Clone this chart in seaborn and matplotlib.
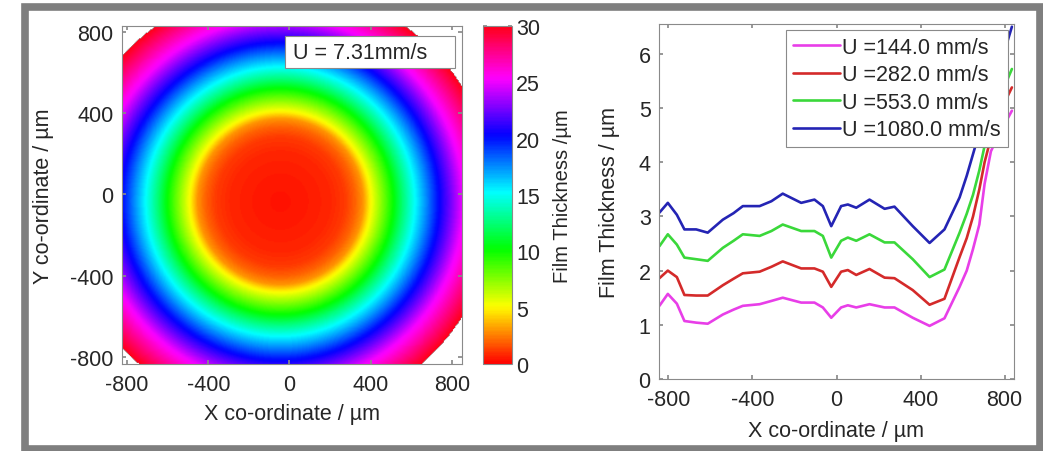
import numpy as np
import pandas as pd
import seaborn as sns
import matplotlib
matplotlib.use("Agg")
from matplotlib import pyplot as plt
from matplotlib.patches import Rectangle

# left panel: film thickness map, radial profile
map_label = "U = 7.31mm/s"
map_centre = (-45, -35)  # um
ring_radius = [0, 150, 250, 320, 370, 410, 445, 500, 555, 605, 660, 720, 778, 840, 900, 980, 1060, 1100]
ring_thickness = [0.4, 0.6, 0.8, 1.2, 2.0, 3.0, 5.0, 7.5, 10.0, 12.5, 15.0, 17.5, 20.0, 22.5, 25.0, 27.5, 29.9, 31.0]
map_x = np.linspace(-825, 850, 300)
map_y = np.linspace(-835, 830, 300)
cbar_ticks = [0, 5, 10, 15, 20, 25, 30]

# right panel: film thickness profiles along x
x_um = [-843, -803, -760, -724, -668, -613, -541, -490, -446, -366, -310, -256, -168, -105, -65, -25,
        22, 54, 94, 157, 229, 276, 363, 443, 514, 586, 620, 650, 680, 705, 735, 765, 800, 835]
h_144 = [1.35, 1.57, 1.39, 1.07, 1.04, 1.02, 1.19, 1.28, 1.35, 1.38, 1.44, 1.50, 1.41, 1.41, 1.32, 1.13,
         1.32, 1.36, 1.32, 1.38, 1.32, 1.32, 1.13, 0.98, 1.12, 1.70, 2.00, 2.40, 2.85, 3.60, 4.20, 4.45, 4.70, 4.95]
h_282 = [1.86, 2.00, 1.88, 1.55, 1.54, 1.54, 1.73, 1.85, 1.95, 1.98, 2.07, 2.17, 2.04, 2.04, 1.98, 1.70,
         1.98, 2.01, 1.92, 2.03, 1.87, 1.86, 1.64, 1.37, 1.48, 2.25, 2.60, 3.00, 3.50, 4.00, 4.45, 4.80, 5.10, 5.38]
h_553 = [2.45, 2.67, 2.48, 2.24, 2.21, 2.18, 2.42, 2.55, 2.67, 2.64, 2.73, 2.85, 2.73, 2.73, 2.64, 2.24,
         2.55, 2.61, 2.55, 2.67, 2.52, 2.52, 2.21, 1.88, 2.02, 2.70, 3.05, 3.40, 3.85, 4.30, 4.65, 5.00, 5.40, 5.72]
h_1080 = [3.07, 3.25, 3.03, 2.76, 2.76, 2.70, 2.94, 3.06, 3.19, 3.19, 3.28, 3.42, 3.25, 3.31, 3.19, 2.82,
          3.19, 3.22, 3.16, 3.31, 3.14, 3.18, 2.82, 2.51, 2.76, 3.35, 3.75, 4.15, 4.55, 4.85, 5.25, 5.60, 6.05, 6.50]
speeds = ["U =144.0 mm/s", "U =282.0 mm/s", "U =553.0 mm/s", "U =1080.0 mm/s"]
line_colors = ["#e83ee8", "#d42a2a", "#3ad83a", "#2424b4"]

sns.set_theme(style="ticks")
fs = 15.5
plt.rcParams['font.family'] = ['Liberation Sans', 'DejaVu Sans']
plt.rcParams.update({'font.size': fs, 'xtick.labelsize': fs, 'ytick.labelsize': fs,
                     'axes.labelsize': fs, 'legend.fontsize': fs, 'axes.unicode_minus': False})
gray = "#8a8a8a"
txt = "#262626"

fig = plt.figure(figsize=(10.43, 4.52), dpi=100)
fig.patch.set_facecolor("white")

# ---- left: thickness map
ax1 = fig.add_axes([122 / 1043, 1 - 365 / 452, 340 / 1043, 338 / 452])
cax = fig.add_axes([483 / 1043, 1 - 365 / 452, 29 / 1043, 338 / 452])
gx, gy = np.meshgrid(map_x, map_y)
r = np.hypot(gx - map_centre[0], gy - map_centre[1])
field = np.interp(r, ring_radius, ring_thickness)
field[field > 30] = np.nan
im = ax1.imshow(field, extent=[map_x[0], map_x[-1], map_y[0], map_y[-1]], origin="lower",
                cmap="hsv", vmin=0, vmax=30, aspect="auto", interpolation="bilinear")
ax1.set_xlim(map_x[0], map_x[-1])
ax1.set_ylim(map_y[0], map_y[-1])
ax1.set_xticks([-800, -400, 0, 400, 800])
ax1.set_yticks([-800, -400, 0, 400, 800])
ax1.set_xlabel("X co-ordinate / µm", color=txt)
ax1.set_ylabel("Y co-ordinate / µm", color=txt)
ax1.xaxis.set_label_coords(0.5, -0.115)
ax1.yaxis.set_label_coords(-0.2, 0.5)
ax1.add_patch(Rectangle((0.479, 0.876), 0.5, 0.094, transform=ax1.transAxes,
                        fc="white", ec=gray, lw=0.8, zorder=3))
ax1.text(0.503, 0.923, map_label, transform=ax1.transAxes, ha="left", va="center",
         color=txt, zorder=4)

cb = fig.colorbar(im, cax=cax, ticks=cbar_ticks)
cb.outline.set_edgecolor(gray)
cb.outline.set_linewidth(0.8)
cb.set_label("Film Thickness /µm", color=txt, fontsize=14.5)
cax.yaxis.set_label_coords(2.4, 0.5)
cax.tick_params(axis="y", direction="in", length=3, color=gray, labelcolor=txt, pad=3,
                left=True, right=True)

# ---- right: thickness profiles
ax2 = fig.add_axes([659 / 1043, 1 - 380 / 452, 355 / 1043, 355 / 452])
rows = []
for name, vals in zip(speeds, [h_144, h_282, h_553, h_1080]):
    for xv, hv in zip(x_um, vals):
        rows.append({"x": xv, "h": hv, "speed": name})
df = pd.DataFrame(rows)
sns.lineplot(data=df, x="x", y="h", hue="speed", hue_order=speeds, palette=line_colors,
             linewidth=1.9, sort=False, estimator=None, ax=ax2)
ax2.set_xlim(-845, 845)
ax2.set_ylim(0, 6.55)
ax2.set_xticks([-800, -400, 0, 400, 800])
ax2.set_yticks([0, 1, 2, 3, 4, 5, 6])
ax2.set_xlabel("X co-ordinate / µm", color=txt)
ax2.set_ylabel("Film Thickness / µm", color=txt)
ax2.xaxis.set_label_coords(0.5, -0.115)
ax2.yaxis.set_label_coords(-0.11, 0.5)
handles, labels = ax2.get_legend_handles_labels()
leg = ax2.legend(handles, labels, loc="upper right", fancybox=False, framealpha=1,
                 edgecolor=gray, borderaxespad=0.3, labelspacing=0.3, handlelength=2.2,
                 handletextpad=0.1, borderpad=0.3)
leg.get_frame().set_linewidth(0.8)

for ax in (ax1, ax2):
    for s in ax.spines.values():
        s.set_visible(True)
        s.set_color(gray)
        s.set_linewidth(0.8)
    ax.tick_params(direction="in", length=3, color=gray, labelcolor=txt,
                   top=True, right=True)
    ax.tick_params(axis="x", pad=7)
    ax.tick_params(axis="y", pad=6)

# grey frame around the whole picture
fig.patches.append(Rectangle((25 / 1043, 1 - 450 / 452), 1015 / 1043, 442.5 / 452,
                             transform=fig.transFigure, fill=False, ec="#7f7f7f", lw=5.5))

fig.savefig("out.png", dpi=100)
